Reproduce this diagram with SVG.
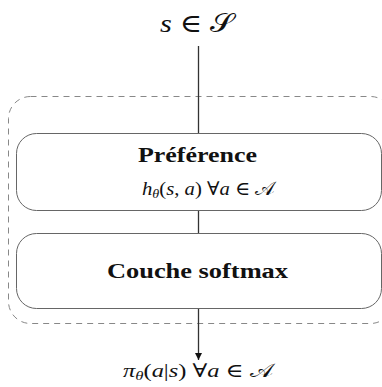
<svg xmlns="http://www.w3.org/2000/svg" width="382" height="387" viewBox="0 0 382 387">
<defs>
<style>
.box{fill:#fff;stroke:#666;stroke-width:1}
.group{fill:none;stroke:#888;stroke-width:1;stroke-dasharray:6 5}
.edge{stroke:#333;stroke-width:1.3;fill:none}
.t{font-family:"Liberation Serif","DejaVu Serif",serif;fill:#111}
.b{font-weight:bold;font-size:20px}
.m{font-size:19px}
.i{font-style:italic}
</style>
<marker id="arr" viewBox="0 0 10 10" refX="10" refY="5" markerWidth="7" markerHeight="7" markerUnits="userSpaceOnUse" orient="auto">
<path d="M0,0 L10,5 L0,10 z" fill="#111"/>
</marker>
</defs>
<g id="group-box"><rect class="group" x="8.5" y="96.5" width="384" height="227" rx="22"/></g>
<g id="connectors">
<line class="edge" x1="198.5" y1="46" x2="198.5" y2="133"/>
<line class="edge" x1="198.5" y1="210" x2="198.5" y2="233"/>
<line class="edge" x1="198.5" y1="308" x2="198.5" y2="360" marker-end="url(#arr)"/>
</g>
<g id="input"><text class="t" x="160" y="32" font-size="26" textLength="73" lengthAdjust="spacingAndGlyphs"><tspan class="i">s</tspan> ∈ 𝒮</text></g>
<g id="preference">
<rect class="box" x="16.5" y="133.5" width="365" height="77" rx="20"/>
<text class="t b" x="138" y="162" textLength="119" lengthAdjust="spacingAndGlyphs">Préférence</text>
<text class="t m" x="142" y="195" textLength="133" lengthAdjust="spacingAndGlyphs"><tspan class="i">h</tspan><tspan class="i" font-size="13" dy="3">θ</tspan><tspan dy="-3">(</tspan><tspan class="i">s</tspan>, <tspan class="i">a</tspan>) ∀<tspan class="i">a</tspan> ∈ 𝒜</text>
</g>
<g id="softmax">
<rect class="box" x="16.5" y="233.5" width="365" height="75" rx="20"/>
<text class="t b" x="107" y="278" textLength="181" lengthAdjust="spacingAndGlyphs">Couche softmax</text>
</g>
<g id="output"><text class="t m" x="123" y="377" font-size="20" textLength="150" lengthAdjust="spacingAndGlyphs"><tspan class="i">π</tspan><tspan class="i" font-size="13" dy="3">θ</tspan><tspan dy="-3">(</tspan><tspan class="i">a</tspan>|<tspan class="i">s</tspan>) ∀<tspan class="i">a</tspan> ∈ 𝒜</text></g>
</svg>
